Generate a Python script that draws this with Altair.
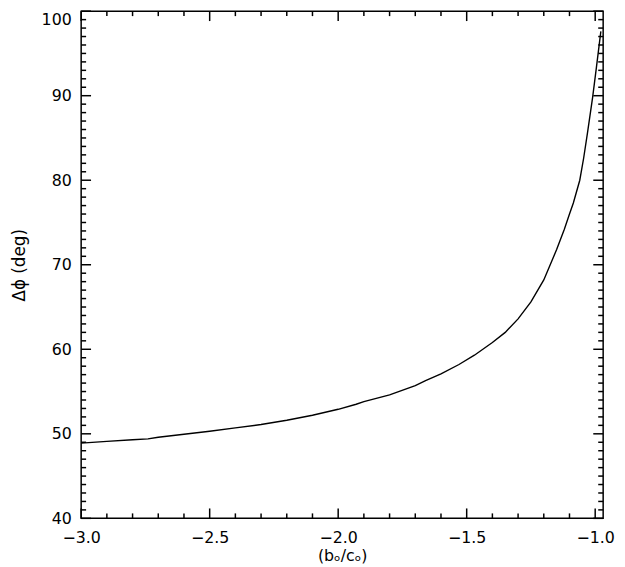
import altair as alt
import pandas as pd

# curve values
x_vals = [-3.00, -2.90, -2.80, -2.74, -2.70, -2.60, -2.50, -2.40, -2.30, -2.20,
          -2.10, -2.00, -1.93, -1.90, -1.80, -1.70, -1.66, -1.60, -1.53, -1.47,
          -1.40, -1.35, -1.30, -1.25, -1.20, -1.15, -1.12, -1.10, -1.085, -1.06,
          -1.045, -1.03, -1.01, -0.995, -0.978]
y_vals = [48.9, 49.1, 49.3, 49.4, 49.6, 49.95, 50.3, 50.7, 51.1, 51.6,
          52.2, 52.9, 53.5, 53.8, 54.6, 55.7, 56.3, 57.1, 58.2, 59.3,
          60.8, 62.0, 63.6, 65.6, 68.2, 71.8, 74.2, 76.0, 77.3, 80.0,
          82.6, 85.6, 89.8, 93.4, 97.6]

x_major = [-3.0, -2.5, -2.0, -1.5, -1.0]
x_minor = [-2.9, -2.8, -2.7, -2.6, -2.4, -2.3, -2.2, -2.1, -1.9, -1.8, -1.7,
           -1.6, -1.4, -1.3, -1.2, -1.1]
y_major = [40, 50, 60, 70, 80, 90, 100]
y_minor = [41, 42, 43, 44, 45, 46, 47, 48, 49, 51, 52, 53, 54, 55, 56, 57, 58, 59,
           61, 62, 63, 64, 65, 66, 67, 68, 69, 71, 72, 73, 74, 75, 76, 77, 78, 79,
           81, 82, 83, 84, 85, 86, 87, 88, 89, 91, 92, 93, 94, 95, 96, 97, 98, 99]

x_title = "(bₒ/cₒ)"
y_title = "Δϕ (deg)"

W, H = 528, 513
MAJ, MIN = 10, 5
FONT = "DejaVu Sans"

xs = alt.Scale(domain=[-3.0, -0.969], nice=False, zero=False)
ys = alt.Scale(domain=[40, 100], nice=False, zero=False)

x_axis = alt.Axis(values=x_major, format=".1f", title=x_title, grid=False,
                  domain=False, ticks=False, labelFlush=False,
                  labelPadding=11, titlePadding=3, titleFontSize=16)
y_axis = alt.Axis(values=y_major, format="d", title=y_title, grid=False,
                  domain=False, ticks=False, labelPadding=10, titlePadding=13,
                  labelBaseline={"condition": {"test": "datum.value >= 100",
                                               "value": "top"},
                                 "value": "middle"})

df = pd.DataFrame({"x": x_vals, "y": y_vals})

line = alt.Chart(df).mark_line(color="black", strokeWidth=1.4).encode(
    x=alt.X("x:Q", scale=xs, axis=x_axis),
    y=alt.Y("y:Q", scale=ys, axis=y_axis),
)


def xticks(vals, length, top):
    d = pd.DataFrame({"x": vals})
    if top:
        yv, y2v = 0, length
    else:
        yv, y2v = H, H - length
    return alt.Chart(d).mark_rule(color="black", strokeWidth=1.5).encode(
        x=alt.X("x:Q", scale=xs, axis=x_axis),
        y=alt.value(yv), y2=alt.value(y2v))


def yticks(vals, length, right):
    d = pd.DataFrame({"y": vals})
    if right:
        xv, x2v = W, W - length
    else:
        xv, x2v = 0, length
    return alt.Chart(d).mark_rule(color="black", strokeWidth=1.5).encode(
        y=alt.Y("y:Q", scale=ys, axis=y_axis),
        x=alt.value(xv), x2=alt.value(x2v))


layers = [line,
          xticks(x_major, MAJ, False), xticks(x_minor, MIN, False),
          xticks(x_major, MAJ, True), xticks(x_minor, MIN, True),
          yticks(y_major, MAJ, False), yticks(y_minor, MIN, False),
          yticks(y_major, MAJ, True), yticks(y_minor, MIN, True)]

chart = alt.layer(*layers).properties(
    width=W, height=H,
    padding={"left": 74, "top": 0, "right": 14, "bottom": 45},
    autosize=alt.AutoSizeParams(type="none"),
).configure_view(
    stroke="black", strokeWidth=1.5
).configure_axis(
    labelFont=FONT, titleFont=FONT, labelFontSize=16, titleFontSize=17,
    titleFontWeight="normal", labelColor="black", titleColor="black",
)

chart.save("out.html", embed_options={"renderer": "svg", "actions": False})
